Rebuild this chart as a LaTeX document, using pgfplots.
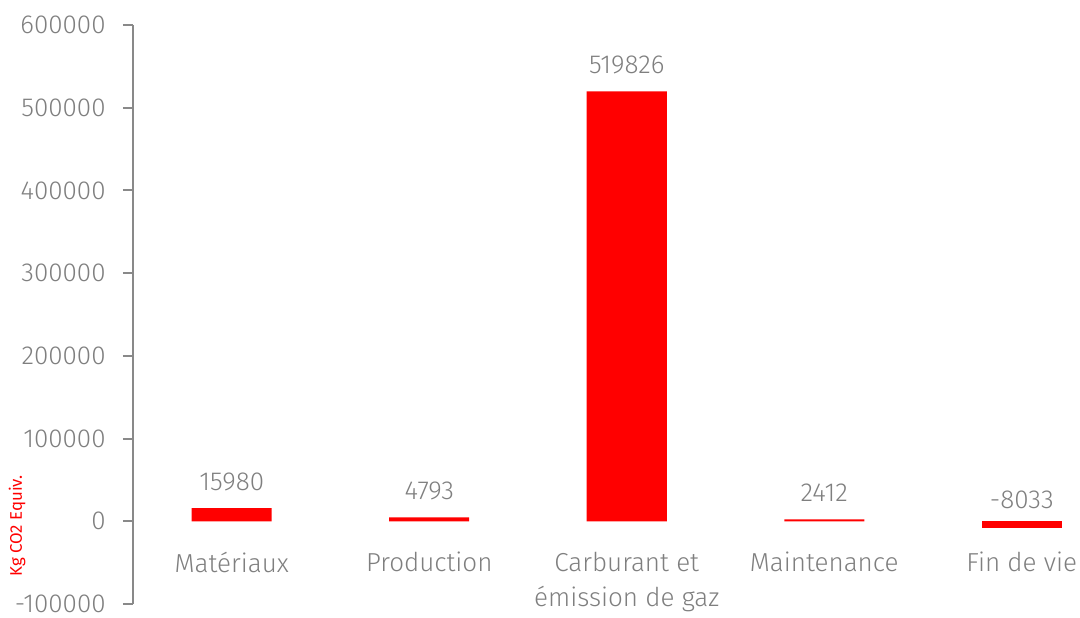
\documentclass[border=0pt]{standalone}
\usepackage{pgfplots}
\pgfplotsset{compat=1.18}
\usepackage{fontspec}
\setmainfont{Fira Sans Light}
\newfontfamily\regfont{Fira Sans}
\definecolor{txtgray}{RGB}{127,127,127}
\definecolor{axgray}{RGB}{137,137,137}
\definecolor{barred}{RGB}{255,0,0}
\begin{document}
\begin{tikzpicture}
\begin{axis}[
  at={(0,0)}, anchor=south west,
  scale only axis,
  width=493.75pt, height=289.5pt,
  xmin=-0.5, xmax=4.5,
  ymin=-100000, ymax=600000,
  axis y line=left,
  axis x line=bottom,
  x axis line style={draw=none},
  y axis line style={draw=axgray, line width=1pt, -},
  tick align=outside,
  major tick length=5pt,
  ytick={-100000,0,100000,200000,300000,400000,500000,600000},
  ytick style={draw=axgray, line width=1pt},
  scaled y ticks=false,
  /pgf/number format/fixed,
  /pgf/number format/1000 sep={},
  /pgf/number format/assume math mode=true,
  yticklabel style={text=txtgray, font=\fontsize{13pt}{16pt}\selectfont, inner sep=0pt, xshift=-8.5pt},
  ylabel={Kg CO2 Equiv.},
  every axis y label/.style={at={(rel axis cs:0,0.135)}, anchor=center, xshift=-58pt, rotate=90, text=barred, font=\regfont\fontsize{8.4pt}{10pt}\selectfont},
  xtick={0,1,2,3,4},
  xticklabels={Matériaux, Production, {Carburant et\\émission de gaz}, Maintenance, Fin de vie},
  xtick style={draw=none},
  xticklabel style={align=center, anchor=north, inner sep=0pt, yshift=31pt, text=txtgray, font=\fontsize{13pt}{17.5pt}\selectfont},
  ybar, bar width=40pt, bar shift=0pt,
  clip=false,
]
\addplot[fill=barred, draw=none,
  nodes near coords={\pgfmathprintnumber[fixed,1000 sep={},assume math mode=true]{\pgfplotspointmeta}},
  every node near coord/.append style={anchor=south, inner sep=0pt, yshift=8.5pt, text=txtgray, font=\fontsize{13pt}{16pt}\selectfont},
] coordinates {(0,15980) (1,4793) (2,519826) (3,2412)};
\addplot[fill=barred, draw=none,
  nodes near coords={\pgfmathprintnumber[fixed,1000 sep={},assume math mode=true]{\pgfplotspointmeta}},
  every node near coord/.append style={anchor=south, inner sep=0pt, yshift=9.5pt, text=txtgray, font=\fontsize{13pt}{16pt}\selectfont},
] coordinates {(4,-8033)};
\end{axis}
\pgfresetboundingbox
\path (-66.5pt,-6.5pt) rectangle (473.5pt,302pt);
\end{tikzpicture}
\end{document}
